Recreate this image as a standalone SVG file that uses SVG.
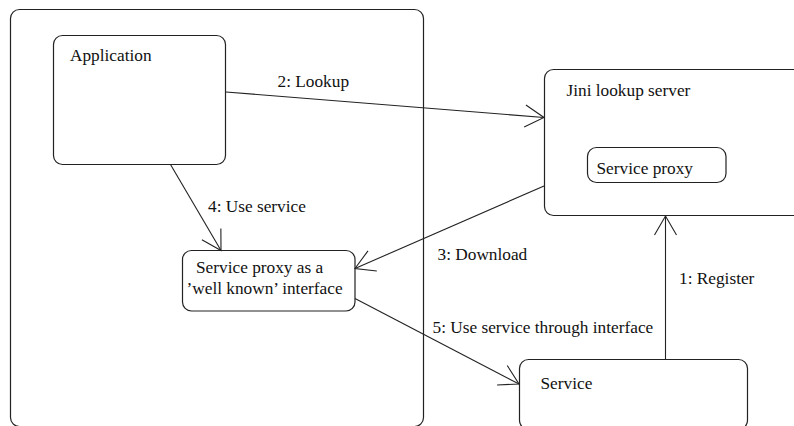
<svg xmlns="http://www.w3.org/2000/svg" width="794" height="426" viewBox="0 0 794 426">
  <style>
    .box { fill: #fff; stroke: #222; stroke-width: 1.2; }
    .edge { fill: none; stroke: #222; stroke-width: 1.1; }
    .lbl { font-family: "Liberation Serif", "Times New Roman", serif; font-size: 17.3px; fill: #111; }
  </style>
  <defs>
    <marker id="open" markerUnits="userSpaceOnUse" markerWidth="26" markerHeight="26" refX="22" refY="12" orient="auto" viewBox="0 0 26 24">
      <path d="M3,1 L22,12 L3,23" fill="none" stroke="#222" stroke-width="1.1"/>
    </marker>
  </defs>
  <rect width="794" height="426" fill="#fff"/>

  <!-- client side container -->
  <g id="client-container">
    <rect class="box" x="10.5" y="9.5" width="413" height="417" rx="9"/>
  </g>

  <g id="application">
    <rect class="box" x="53.5" y="35.5" width="172" height="129" rx="9"/>
    <text class="lbl" x="70" y="61">Application</text>
  </g>

  <g id="proxy-interface">
    <rect class="box" x="182.5" y="250.5" width="172.5" height="60.5" rx="9"/>
    <text class="lbl" x="196" y="272.5">Service proxy as a</text>
    <text class="lbl" x="186.5" y="293.5">’well known’ interface</text>
  </g>

  <g id="jini-lookup">
    <rect class="box" x="544.5" y="69.5" width="270" height="146" rx="9"/>
    <text class="lbl" x="566.5" y="95.5">Jini lookup server</text>
  </g>

  <g id="service-proxy">
    <rect class="box" x="587.5" y="147.5" width="138.5" height="35" rx="9"/>
    <text class="lbl" x="596.5" y="173.5">Service proxy</text>
  </g>

  <g id="service">
    <rect class="box" x="519.5" y="359.5" width="228" height="70" rx="9"/>
    <text class="lbl" x="540.5" y="388.5">Service</text>
  </g>

  <!-- connectors -->
  <g id="connectors">
    <line class="edge" x1="226" y1="92" x2="544" y2="117.5" marker-end="url(#open)"/>
    <line class="edge" x1="170.5" y1="164.5" x2="221" y2="250.5" marker-end="url(#open)"/>
    <line class="edge" x1="544" y1="186" x2="355" y2="268.5" marker-end="url(#open)"/>
    <line class="edge" x1="355" y1="298.5" x2="519" y2="384" marker-end="url(#open)"/>
    <line class="edge" x1="665.5" y1="359" x2="665.5" y2="216" marker-end="url(#open)"/>
  </g>

  <g id="connector-labels">
    <text class="lbl" x="277.5" y="87">2: Lookup</text>
    <text class="lbl" x="208" y="211.5">4: Use service</text>
    <text class="lbl" x="437.5" y="260">3: Download</text>
    <text class="lbl" x="432.5" y="332.5">5: Use service through interface</text>
    <text class="lbl" x="679" y="284">1: Register</text>
  </g>
</svg>
